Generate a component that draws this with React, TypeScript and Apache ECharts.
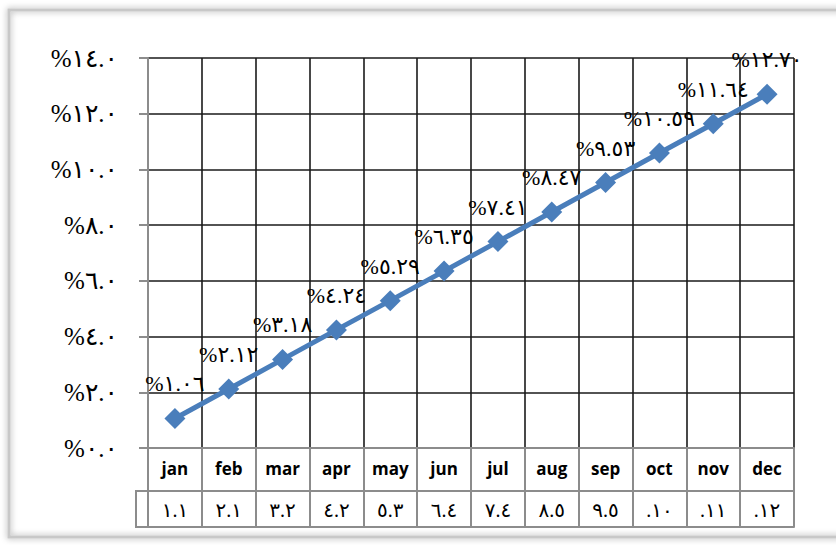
import React, { useEffect, useRef } from "react";
import * as echarts from "echarts";

const months = ["jan", "feb", "mar", "apr", "may", "jun", "jul", "aug", "sep", "oct", "nov", "dec"];
const values = [1.06, 2.12, 3.18, 4.24, 5.29, 6.35, 7.41, 8.47, 9.53, 10.59, 11.64, 12.7];
const tableRow = ["١.١", "٢.١", "٣.٢", "٤.٢", "٥.٣", "٦.٤", "٧.٤", "٨.٥", "٩.٥", ".١٠", ".١١", ".١٢"];
const yMin = 0;
const yMax = 14;
const yStep = 2;

const arabicDigits = "٠١٢٣٤٥٦٧٨٩";
const toArabic = (s: string) => s.replace(/[0-9]/g, (d) => arabicDigits[Number(d)]);

const ARFONT = "'Liberation Serif', 'DejaVu Sans', serif";
const GRID = { left: 148, right: 42, top: 58, bottom: 97 };

export default function App() {
  const ref = useRef<HTMLDivElement>(null);
  useEffect(() => {
    if (!ref.current) return;
    const chart = echarts.init(ref.current, undefined, { renderer: "svg" });
    const gray = "#8c8c8c";
    chart.setOption({
      animation: false,
      backgroundColor: "#ffffff",
      graphic: [
        {
          type: "rect",
          shape: { x: 9, y: 10, width: 840, height: 527 },
          style: { fill: "none", stroke: "#c8c8c8", lineWidth: 3, shadowBlur: 6, shadowColor: "rgba(0,0,0,0.35)" },
          z: 0,
        },
        {
          type: "rect",
          shape: { x: 136, y: 491, width: 12, height: 36 },
          style: { fill: "none", stroke: gray, lineWidth: 2 },
          z: 10,
        },
      ],
      grid: { ...GRID, containLabel: false },
      xAxis: [
        {
          type: "category",
          data: months,
          position: "bottom",
          boundaryGap: true,
          axisLine: { show: true, lineStyle: { color: gray, width: 2 } },
          axisTick: { show: true, length: 79, lineStyle: { color: gray, width: 2 } },
          axisLabel: {
            margin: 12,
            color: "#000",
            fontFamily: "'Open Sans', Lato, sans-serif",
            fontWeight: "bold",
            fontSize: 17,
          },
          splitLine: { show: true, lineStyle: { color: "#1a1a1a", width: 1.6 } },
        },
        {
          type: "category",
          data: tableRow,
          position: "bottom",
          offset: 43,
          boundaryGap: true,
          axisLine: { show: true, lineStyle: { color: gray, width: 2 } },
          axisTick: { show: false },
          axisLabel: { margin: 9, color: "#000", fontFamily: ARFONT, fontSize: 20 },
          splitLine: { show: false },
        },
        {
          type: "category",
          data: months,
          position: "bottom",
          offset: 79,
          boundaryGap: true,
          axisLine: { show: true, lineStyle: { color: gray, width: 2 } },
          axisTick: { show: false },
          axisLabel: { show: false },
          splitLine: { show: false },
        },
      ],
      yAxis: {
        type: "value",
        min: yMin,
        max: yMax,
        interval: yStep,
        axisLine: { show: true, lineStyle: { color: gray, width: 2 } },
        axisTick: { show: true, length: 9, lineStyle: { color: gray, width: 2 } },
        axisLabel: {
          margin: 30,
          color: "#000",
          fontFamily: ARFONT,
          fontSize: 25,
          formatter: (v: number) => "%" + toArabic(v.toFixed(1)),
        },
        splitLine: { show: true, lineStyle: { color: "#1a1a1a", width: 1.6 } },
      },
      series: [
        {
          type: "line",
          data: values,
          xAxisIndex: 0,
          symbol: "diamond",
          symbolSize: 21,
          lineStyle: { color: "#4A7EBB", width: 5 },
          itemStyle: { color: "#4A7EBB" },
          label: {
            show: true,
            position: "top",
            distance: 13,
            color: "#000",
            fontFamily: ARFONT,
            fontSize: 22,
            formatter: (p: any) => "%" + toArabic(Number(p.value).toFixed(2)),
          },
          z: 5,
        },
      ],
    });
    return () => chart.dispose();
  }, []);
  return (
    <div
      ref={ref}
      style={{ position: "fixed", left: 0, top: 0, width: 836, height: 545, background: "#fff" }}
    />
  );
}
